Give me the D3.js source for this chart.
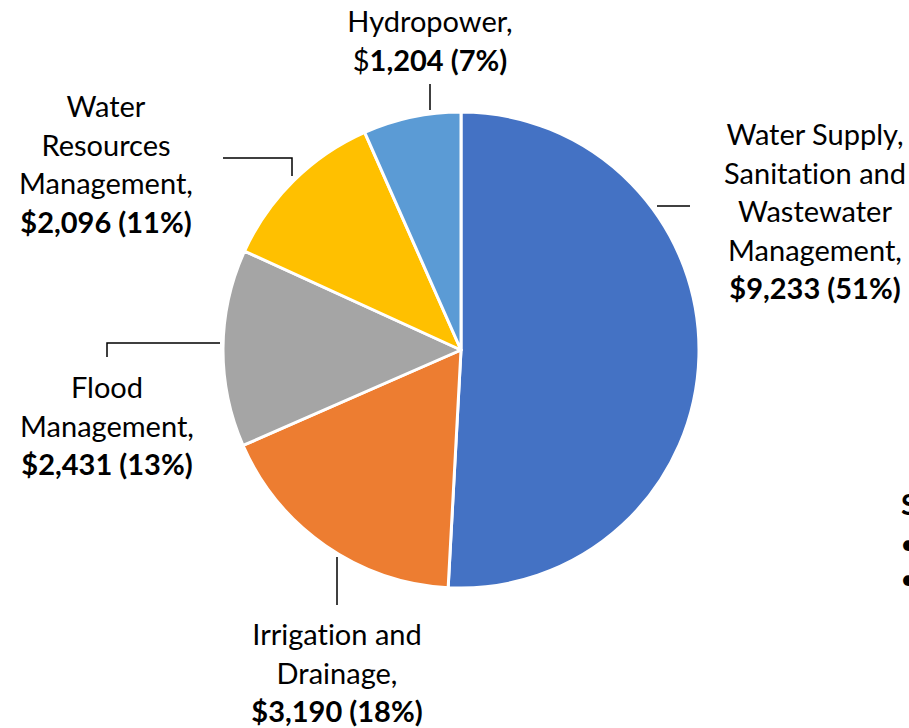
<!DOCTYPE html>
<html>
<head>
<meta charset="utf-8">
<script src="https://cdn.jsdelivr.net/npm/d3@7"></script>
<style>
  body { margin: 0; background: #fff; }
  svg { display: block; }
  text { font-family: Lato, "Open Sans", sans-serif; fill: #000; font-variant-ligatures: none; }
</style>
</head>
<body>
<svg width="909" height="728"></svg>
<script>
// data
var categories = ["Water Supply, Sanitation and Wastewater Management", "Irrigation and Drainage", "Flood Management", "Water Resources Management", "Hydropower"];
var values = [9233, 3190, 2431, 2096, 1204];
var percents = [51, 18, 13, 11, 7];
var colors = ["#4472C4", "#ED7D31", "#A5A5A5", "#FFC000", "#5B9BD5"];

// label text lines (the last line carries the value)
var labelLines = [
	["Water Supply,", "Sanitation and", "Wastewater", "Management,"],
	["Irrigation and", "Drainage,"],
	["Flood", "Management,"],
	["Water", "Resources", "Management,"],
	["Hydropower,"]
];

// layout for labels + leader lines
var labelPos = [
	{ x: 815, y: 145, leader: [[657, 206], [690, 206]] },
	{ x: 337, y: 645, leader: [[337, 557], [337, 605]] },
	{ x: 107, y: 398, leader: [[220, 343], [107, 343], [107, 357]] },
	{ x: 106, y: 117, leader: [[292, 176], [292, 158], [223, 158]] },
	{ x: 430, y: 32,  leader: [[430, 110], [430, 84]] }
];

var svg = d3.select("svg"),
	cx = 461, cy = 350, radius = 238,
	lineH = 38.5;

var pie = d3.pie().sort(null).value(function(d) { return d; });
var arc = d3.arc().innerRadius(0).outerRadius(radius);
var fmt = d3.format(",");

var g = svg.append("g").attr("transform", "translate(" + cx + "," + cy + ")");
g.selectAll("path.slice")
	.data(pie(values))
	.enter().append("path")
	.attr("class", "slice")
	.attr("d", arc)
	.attr("fill", function(d, i) { return colors[i]; })
	.attr("stroke", "#fff")
	.attr("stroke-width", 3)
	.attr("stroke-linejoin", "round");

// leader lines
svg.append("g").selectAll("path")
	.data(labelPos)
	.enter().append("path")
	.attr("d", function(d) { return d3.line()(d.leader); })
	.attr("fill", "none")
	.attr("stroke", "#000")
	.attr("stroke-width", 1.5);

// labels
var labels = svg.append("g").selectAll("text")
	.data(categories)
	.enter().append("text")
	.attr("text-anchor", "middle")
	.attr("font-size", 29);

labels.each(function(d, i) {
	var t = d3.select(this), p = labelPos[i];
	labelLines[i].forEach(function(line, j) {
		t.append("tspan").attr("x", p.x).attr("y", p.y + j * lineH).text(line);
	});
	var last = t.append("tspan").attr("x", p.x).attr("y", p.y + labelLines[i].length * lineH);
	if (i === 4) { // hydropower's "$" is not bold in the original
		last.append("tspan").text("$");
		last.append("tspan").attr("font-weight", "bold").text(fmt(values[i]) + " (" + percents[i] + "%)");
	} else {
		last.attr("font-weight", "bold").text("$" + fmt(values[i]) + " (" + percents[i] + "%)");
	}
});

// cut-off slide text at the right edge
svg.append("text").attr("x", 901).attr("y", 515).attr("font-size", 29).attr("font-weight", "bold").text("S");
svg.append("text").attr("x", 900).attr("y", 554).attr("font-size", 29).text("•");
svg.append("text").attr("x", 900).attr("y", 589).attr("font-size", 29).text("•");
</script>
</body>
</html>
